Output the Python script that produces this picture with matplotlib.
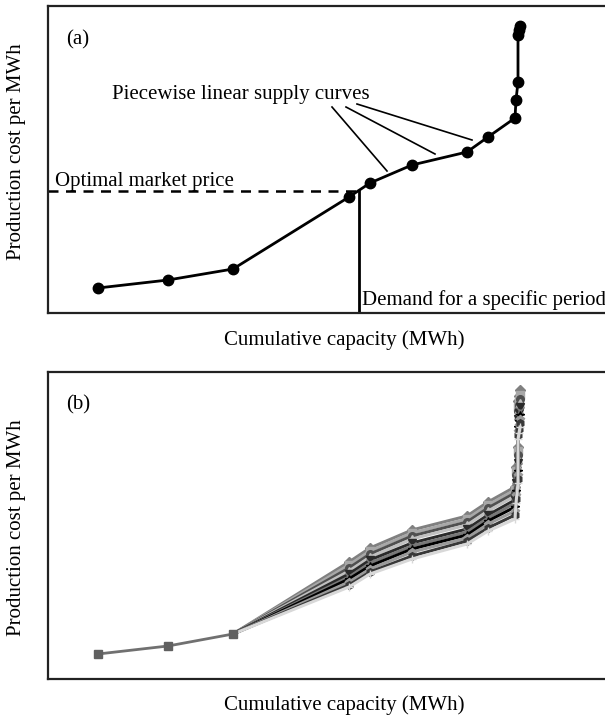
import matplotlib
matplotlib.use("Agg")
import matplotlib.pyplot as plt

plt.rcParams['font.family'] = ['Liberation Serif', 'DejaVu Serif']

# --- panel (a): single piecewise linear supply curve ---
capacity = [50, 120, 185, 301, 322, 364, 419, 440, 467, 468, 470, 470, 471, 472]
cost_a = [25, 33, 44, 116, 130, 148, 161, 176, 195, 213, 231, 278, 283, 287]
market_price = 122
demand = 311
# annotation pointers (text anchor -> curve segment)
pointer_start = [(284, 206), (298, 206), (309, 209)]
pointer_end = [(339, 142), (387, 159), (424, 173)]

# --- panel (b): scenario supply curves sharing the first three steps ---
shared_cost = [25, 33, 45]
scenarios = [
    [117, 131, 149, 163, 177, 192, 212, 232, 278, 283, 289],
    [114, 128, 146, 160, 174, 189, 208, 228, 272, 278, 284],
    [111, 125, 143, 157, 171, 186, 204, 224, 268, 274, 280],
    [108, 122, 140, 154, 168, 183, 200, 220, 264, 270, 276],
    [105, 119, 136, 150, 164, 179, 196, 216, 260, 266, 272],
    [102, 116, 133, 147, 161, 176, 192, 212, 256, 262, 268],
    [100, 113, 130, 144, 158, 172, 188, 208, 252, 258, 264],
    [97, 110, 127, 141, 155, 168, 184, 204, 248, 254, 260],
    [94, 107, 123, 138, 151, 164, 180, 200, 244, 250, 256],
    [92, 105, 120, 135, 148, 160, 176, 196, 240, 246, 252],
]
scen_colors = ['#808080', '#a8a8a8', '#505050', '#c0c0c0', '#2a2a2a',
               '#787878', '#000000', '#9a9a9a', '#383838', '#d8d8d8']
scen_markers = ['D', 's', 'o', '^', 'v', 'x', '*', 'p', 'h', '+']

fig = plt.figure(figsize=(6.05, 7.18), dpi=100)
W, H = 605, 718


def make_axes(top_px, bottom_px):
    ax = fig.add_axes([48 / W, 1 - bottom_px / H, 1 - 48 / W, (bottom_px - top_px) / H])
    ax.set_xlim(0, 557)
    ax.set_ylim(0, 307)
    ax.set_xticks([])
    ax.set_yticks([])
    ax.spines['right'].set_visible(False)
    for s in ['left', 'top', 'bottom']:
        ax.spines[s].set_linewidth(1.6)
        ax.spines[s].set_color('#222222')
    return ax


ax1 = make_axes(6, 313)
ax1.plot([0, demand], [market_price, market_price], color='black', lw=1.8, ls=(0, (4, 3)))
ax1.plot([demand, demand], [0, market_price], color='black', lw=2)
ax1.plot(capacity, cost_a, color='black', lw=2, marker='o', ms=7.5)
for (x0, y0), (x1, y1) in zip(pointer_start, pointer_end):
    ax1.plot([x0, x1], [y0, y1], color='black', lw=1.2)
ax1.text(18, 273, "(a)", fontsize=15, va='center')
ax1.text(64, 219, "Piecewise linear supply curves", fontsize=15, va='center')
ax1.text(7, 127, "Optimal market price", fontsize=15, va='baseline')
ax1.text(314, 13, "Demand for a specific period", fontsize=15, va='center')

ax2 = make_axes(372, 679)
for vals, c, m in zip(scenarios, scen_colors, scen_markers):
    ax2.plot(capacity[2:], [shared_cost[-1]] + vals, color=c, lw=2.2,
             marker=m, ms=5.5, markevery=list(range(1, len(vals) + 1)))
ax2.plot(capacity[:3], shared_cost, color='#707070', lw=2, marker='s', ms=6,
         markerfacecolor='#606060', markeredgecolor='#606060')
ax2.text(18, 274, "(b)", fontsize=15, va='center')

for yc_top, yc_lab in [(152, 340), (528, 705)]:
    fig.text(17 / W, 1 - yc_top / H, "Production cost per MWh", rotation=90,
             fontsize=15, ha='center', va='center')
    fig.text(344 / W, 1 - yc_lab / H, "Cumulative capacity (MWh)",
             fontsize=15, ha='center', va='center')

fig.savefig("out.png", dpi=100)
